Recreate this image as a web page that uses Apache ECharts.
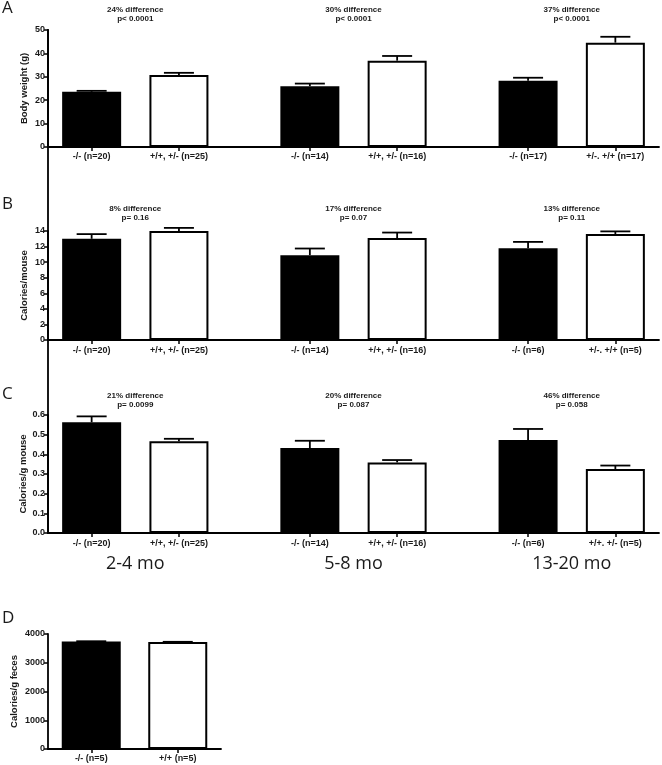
<!DOCTYPE html>
<html>
<head>
<meta charset="utf-8">
<title>Body weight and calories</title>
<script src="https://cdn.jsdelivr.net/npm/echarts@6/dist/echarts.min.js"></script>
<style>
  html, body { margin: 0; padding: 0; background: #fff; }
  #chart { width: 662px; height: 765px; }
</style>
</head>
<body>
<div id="chart"></div>
<script>
// ---- data ----
var ageGroups = ['2-4 mo', '5-8 mo', '13-20 mo'];

var weightLabels = ['-/- (n=20)', '+/+, +/- (n=25)', '-/- (n=14)', '+/+, +/- (n=16)', '-/- (n=17)', '+/-. +/+ (n=17)'];
var weightMean = [23.6, 30.8, 26.0, 36.9, 28.3, 44.6];
var weightSem = [0.4, 0.9, 1.1, 2.0, 1.3, 2.5];
var weightNotes = ['24% difference\np< 0.0001', '30% difference\np< 0.0001', '37% difference\np< 0.0001'];

var calLabels = ['-/- (n=20)', '+/+, +/- (n=25)', '-/- (n=14)', '+/+, +/- (n=16)', '-/- (n=6)', '+/-. +/+ (n=5)'];
var calMean = [13.0, 14.0, 10.9, 13.1, 11.8, 13.6];
var calSem = [0.6, 0.4, 0.85, 0.7, 0.8, 0.35];
var calNotes = ['8% difference\np= 0.16', '17% difference\np= 0.07', '13% difference\np= 0.11'];

var calPerGLabels = ['-/- (n=20)', '+/+, +/- (n=25)', '-/- (n=14)', '+/+, +/- (n=16)', '-/- (n=6)', '+/+. +/- (n=5)'];
var calPerGMean = [0.563, 0.466, 0.432, 0.359, 0.473, 0.325];
var calPerGSem = [0.030, 0.013, 0.037, 0.012, 0.056, 0.018];
var calPerGNotes = ['21% difference\np= 0.0099', '20% difference\np= 0.087', '46% difference\np= 0.058'];

var fecesLabels = ['-/- (n=5)', '+/+ (n=5)'];
var fecesMean = [3740, 3718];
var fecesSem = [8, 10];

// ---- layout helpers ----
var FONT = '"Liberation Sans", Arial, sans-serif';
var INK = '#1a1a1a';
var axisLine = { show: true, onZero: false, lineStyle: { color: '#000', width: 1.8 } };

// each pair of bars sits in a block of 5 category slots: gap, bar, gap, bar, gap
function slotOf(i) { return Math.floor(i / 2) * 5 + 1 + (i % 2) * 2; }
function blank(n) { var a = []; for (var k = 0; k < n; k++) a.push(''); return a; }

function errBar(params, api) {
  var x = api.value(0), m = api.value(1), e = api.value(2);
  var p0 = api.coord([x, m]);
  var p1 = api.coord([x, m + e]);
  var half = 15;
  var st = { stroke: '#000', lineWidth: 1.8 };
  return {
    type: 'group',
    children: [
      { type: 'line', shape: { x1: p0[0], y1: p0[1], x2: p1[0], y2: p1[1] }, style: st },
      { type: 'line', shape: { x1: p1[0] - half, y1: p1[1], x2: p1[0] + half, y2: p1[1] }, style: st }
    ]
  };
}

var grids = [], xAxes = [], yAxes = [], series = [];

function addPanel(p) {
  var gi = grids.length;
  grids.push(p.grid);
  var n = p.slots;
  var cats = blank(n), noteCats = blank(n), groupCats = blank(n);
  p.labels.forEach(function (l, i) { cats[slotOf(i)] = l; });
  (p.notes || []).forEach(function (t, g) { noteCats[g * 5 + 2] = t; });
  (p.groups || []).forEach(function (t, g) { groupCats[g * 5 + 2] = t; });

  var xi = xAxes.length;
  xAxes.push({
    gridIndex: gi, type: 'category', data: cats, boundaryGap: false, position: 'bottom',
    axisLine: axisLine,
    axisTick: { show: true, interval: function (i) { return cats[i] !== ''; }, length: 4, lineStyle: { color: '#000', width: 1.5 } },
    axisLabel: { interval: 0, margin: p.labelMargin, fontSize: 9, fontWeight: 'bold', color: INK, fontFamily: FONT },
    splitLine: { show: false }
  });
  if (p.notes) {
    xAxes.push({
      gridIndex: gi, type: 'category', data: noteCats, boundaryGap: false, position: 'top',
      axisLine: { show: false, onZero: false }, axisTick: { show: false },
      axisLabel: { interval: 0, margin: p.noteMargin, fontSize: 8, lineHeight: 8.5, fontWeight: 'bold', color: INK, fontFamily: FONT }
    });
  }
  if (p.groups) {
    xAxes.push({
      gridIndex: gi, type: 'category', data: groupCats, boundaryGap: false, position: 'bottom',
      axisLine: { show: false, onZero: false }, axisTick: { show: false },
      axisLabel: { interval: 0, margin: 22, fontSize: 18, color: INK, fontFamily: '"Open Sans", sans-serif' }
    });
  }

  var yi = yAxes.length;
  yAxes.push({
    gridIndex: gi, type: 'value', min: 0, max: p.max, interval: p.step,
    name: p.name, nameLocation: 'middle', nameRotate: 90, nameGap: p.nameGap, nameMoveOverlap: false,
    nameTextStyle: { fontSize: 9.5, fontWeight: 'bold', color: INK, fontFamily: FONT },
    axisLine: axisLine,
    axisTick: { show: true, length: 4, lineStyle: { color: '#000', width: 1.5 } },
    axisLabel: { margin: 3, fontSize: 9, fontWeight: 'bold', color: INK, fontFamily: FONT, formatter: p.fmt || function (v) { return String(v); } },
    splitLine: { show: false }
  });

  var ko = blank(n).map(function () { return '-'; });
  var wt = ko.slice();
  p.mean.forEach(function (m, i) { (i % 2 === 0 ? ko : wt)[slotOf(i)] = m; });

  series.push({
    type: 'bar', xAxisIndex: xi, yAxisIndex: yi, data: ko, barWidth: 59, barGap: '-100%',
    itemStyle: { color: '#000' }, silent: true
  });
  series.push({
    type: 'bar', xAxisIndex: xi, yAxisIndex: yi, data: wt, barWidth: 59, barGap: '-100%',
    itemStyle: { color: '#fff', borderColor: '#000', borderWidth: 2 }, silent: true
  });
  series.push({
    type: 'custom', xAxisIndex: xi, yAxisIndex: yi, renderItem: errBar, z: 5, silent: true,
    data: p.mean.map(function (m, i) { return [slotOf(i), m, p.sem[i]]; })
  });
}

addPanel({
  grid: { left: 48, right: 2, top: 30, height: 117 },
  slots: 15, labels: weightLabels, mean: weightMean, sem: weightSem, notes: weightNotes,
  max: 50, step: 10, name: 'Body weight (g)', nameGap: 19, labelMargin: 5, noteMargin: 7
});
addPanel({
  grid: { left: 48, right: 2, top: 231, height: 109 },
  slots: 15, labels: calLabels, mean: calMean, sem: calSem, notes: calNotes,
  max: 14, step: 2, name: 'Calories/mouse', nameGap: 19, labelMargin: 6, noteMargin: 9
});
addPanel({
  grid: { left: 48, right: 2, top: 415, height: 118 },
  slots: 15, labels: calPerGLabels, mean: calPerGMean, sem: calPerGSem, notes: calPerGNotes, groups: ageGroups,
  max: 0.6, step: 0.1, name: 'Calories/g mouse', nameGap: 20, labelMargin: 6, noteMargin: 6,
  fmt: function (v) { return v.toFixed(1); }
});
addPanel({
  grid: { left: 48, top: 634, width: 173, height: 115 },
  slots: 5, labels: fecesLabels, mean: fecesMean, sem: fecesSem,
  max: 4000, step: 1000, name: 'Calories/g feces', nameGap: 29, labelMargin: 5
});

// the shared left spine that runs through panels A, B and C
grids.push({ left: 48, top: 30, width: 10, bottom: 232 });
xAxes.push({ gridIndex: grids.length - 1, type: 'value', show: false });
yAxes.push({
  gridIndex: grids.length - 1, type: 'value', min: 0, max: 1,
  axisLine: axisLine, axisTick: { show: false }, axisLabel: { show: false }, splitLine: { show: false }
});

var letters = [['A', 0], ['B', 196], ['C', 386], ['D', 610]];

var chart = echarts.init(document.getElementById('chart'), null, { renderer: 'canvas' });
chart.setOption({
  backgroundColor: '#fff',
  animation: false,
  grid: grids,
  xAxis: xAxes,
  yAxis: yAxes,
  series: series,
  graphic: letters.map(function (l) {
    return { type: 'text', left: 2, top: l[1], style: { text: l[0], font: '17px "Open Sans", sans-serif', fill: INK } };
  })
});
</script>
</body>
</html>
